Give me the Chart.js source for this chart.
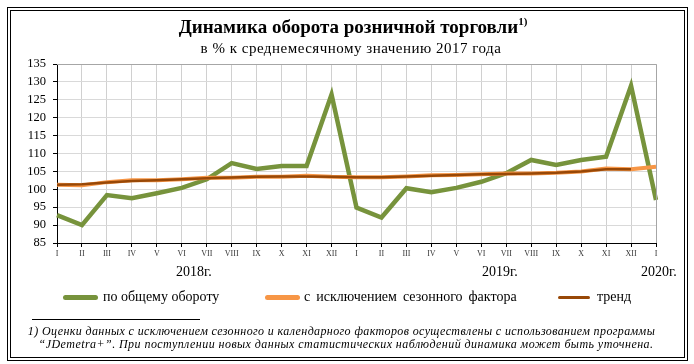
<!DOCTYPE html>
<html>
<head>
<meta charset="utf-8">
<script src="https://cdn.jsdelivr.net/npm/chart.js@4.4.1/dist/chart.umd.min.js"></script>
<style>
  html, body { margin:0; padding:0; background:#fff; }
  #wrap { position:relative; width:694px; height:364px; overflow:hidden; font-family:"Liberation Serif","Times New Roman",serif; color:#000; }
  #frame { position:absolute; left:7px; top:7px; width:673px; height:346px; border:4px double #000; }
  canvas { position:absolute; left:0; top:0; }
  .t { position:absolute; white-space:nowrap; line-height:1; }
  .ls { position:absolute; height:5px; border-radius:3px; }
</style>
</head>
<body>
<div id="wrap">
  <div id="frame"></div>
  <canvas id="c" width="694" height="364"></canvas>
  <div class="t" style="left:0;width:706px;text-align:center;top:17px;font-size:19px;font-weight:bold;">Динамика оборота розничной торговли<sup style="font-size:11px;vertical-align:8px;line-height:0">1)</sup></div>
  <div class="t" style="left:0;width:702px;text-align:center;top:41px;font-size:15px;letter-spacing:0.5px;">в % к среднемесячному значению 2017 года</div>
  <div class="t" style="left:176px;top:265px;font-size:14px;">2018г.</div>
  <div class="t" style="left:482px;top:265px;font-size:14px;">2019г.</div>
  <div class="t" style="left:641px;top:265px;font-size:14px;">2020г.</div>
  <div class="ls" style="left:63px;top:295px;width:35px;background:#77933C;"></div>
  <div class="t" style="left:103px;top:290px;font-size:14px;">по общему обороту</div>
  <div class="ls" style="left:265px;top:295px;width:35px;background:#F79646;"></div>
  <div class="t" style="left:304px;top:290px;font-size:14px;word-spacing:2.5px;">с исключением сезонного фактора</div>
  <div class="ls" style="left:558px;top:296px;width:32px;height:3px;background:#984807;"></div>
  <div class="t" style="left:597px;top:290px;font-size:14px;">тренд</div>
  <div style="position:absolute;left:32px;top:319px;width:168px;height:0;border-top:1px solid #000;"></div>
  <div class="t" style="left:0;width:683px;text-align:center;top:325px;font-size:12px;font-style:italic;letter-spacing:0.38px;">1) Оценки данных с исключением сезонного и календарного факторов осуществлены с использованием программы</div>
  <div class="t" style="left:0;width:692px;text-align:center;top:338px;font-size:12px;font-style:italic;letter-spacing:0.44px;">“JDemetra+”. При поступлении новых данных статистических наблюдений динамика может быть уточнена.</div>
</div>
<script>
const months = ["I","II","III","IV","V","VI","VII","VIII","IX","X","XI","XII",
                "I","II","III","IV","V","VI","VII","VIII","IX","X","XI","XII","I"];
const totalTurnover = [92.8, 90.0, 98.4, 97.5, 98.9, 100.4, 102.8, 107.3, 105.7, 106.5, 106.5, 126.5,
                       94.9, 92.1, 100.3, 99.2, 100.4, 102.1, 104.5, 108.2, 106.8, 108.2, 109.1, 128.9, 97.0];
const seasonallyAdjusted = [101.3, 101.1, 102.0, 102.5, 102.5, 102.8, 103.2, 103.2, 103.5, 103.5, 103.8, 103.5,
                            103.4, 103.4, 103.6, 103.9, 104.0, 104.2, 104.4, 104.4, 104.6, 105.0, 105.8, 105.6, 106.3];
const trend = [101.3, 101.4, 101.9, 102.3, 102.5, 102.8, 103.1, 103.3, 103.5, 103.6, 103.6, 103.5,
               103.4, 103.4, 103.6, 103.8, 104.0, 104.2, 104.3, 104.4, 104.6, 105.0, 105.6, 105.6, null];
const yMin = 85, yMax = 135, yStep = 5;

new Chart(document.getElementById('c'), {
  type: 'line',
  data: {
    labels: months,
    datasets: [
      { label: 'по общему обороту', data: totalTurnover, borderColor: '#77933C', borderWidth: 4.5, pointRadius: 0, tension: 0, order: 3 },
      { label: 'с исключением сезонного фактора', data: seasonallyAdjusted, borderColor: '#F79646', borderWidth: 4, pointRadius: 0, tension: 0, order: 2 },
      { label: 'тренд', data: trend, borderColor: '#984807', borderWidth: 2.5, pointRadius: 0, tension: 0, order: 1, spanGaps: false }
    ]
  },
  options: {
    responsive: false,
    animation: false,
    layout: { padding: { left: 0, right: 38, top: 64, bottom: 101 } },
    plugins: { legend: { display: false }, title: { display: false }, tooltip: { enabled: false } },
    scales: {
      x: {
        offset: false,
        afterFit: s => { s.height = 20; },
        grid: { color: '#d0d0d0', lineWidth: 1, tickLength: 4, tickColor: '#000', drawTicks: true },
        border: { color: '#000', width: 1 },
        ticks: { autoSkip: false, maxRotation: 0, font: { family: 'Liberation Serif', size: 8 }, color: '#333', padding: 2 }
      },
      y: {
        min: yMin, max: yMax,
        afterFit: s => { s.width = 57; },
        afterBuildTicks: s => { s.ticks = []; for (let v = yMin; v <= yMax; v += yStep) s.ticks.push({ value: v }); },
        grid: { color: '#d9d9d9', lineWidth: 1, tickLength: 4, tickColor: '#000' },
        border: { color: '#000', width: 1 },
        ticks: { autoSkip: false, font: { family: 'Liberation Serif', size: 12.5 }, color: '#000', padding: 7 }
      }
    }
  },
  plugins: [{
    id: 'frameLines',
    afterDraw(chart) {
      const a = chart.chartArea, ctx = chart.ctx;
      ctx.save();
      ctx.strokeStyle = '#a6a6a6'; ctx.lineWidth = 1;
      ctx.beginPath();
      ctx.moveTo(a.left, a.top + 0.5); ctx.lineTo(a.right + 0.5, a.top + 0.5); ctx.lineTo(a.right + 0.5, a.bottom);
      ctx.stroke();
      ctx.restore();
    }
  }]
});
</script>
</body>
</html>
